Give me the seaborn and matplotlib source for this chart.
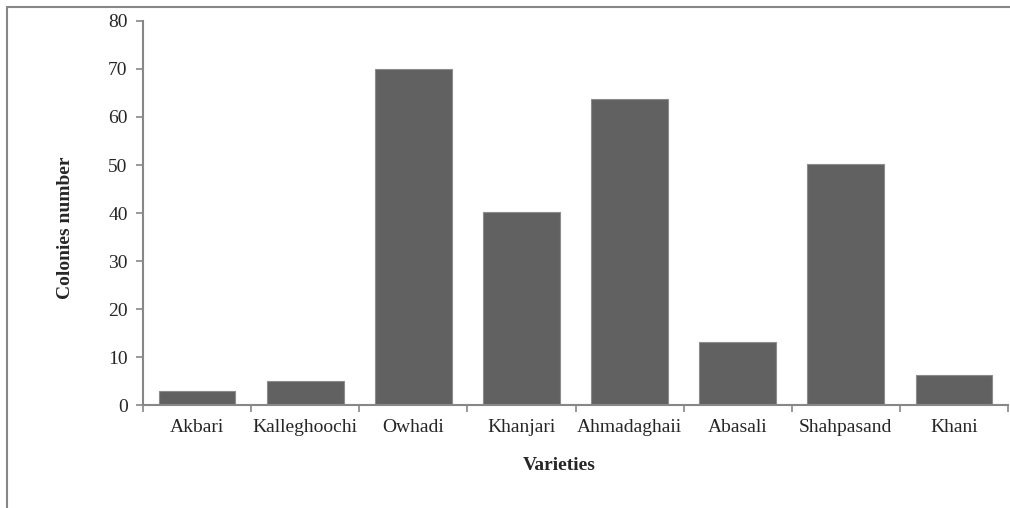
import numpy as np
import pandas as pd
import seaborn as sns
import matplotlib.pyplot as plt
from matplotlib.patches import Rectangle

sns.set_style('white')
plt.rcParams['font.family'] = ['Liberation Serif', 'DejaVu Serif']

# data
varieties = ['Akbari', 'Kalleghoochi', 'Owhadi', 'Khanjari', 'Ahmadaghaii',
             'Abasali', 'Shahpasand', 'Khani']
colonies = [2.9, 4.9, 70.0, 40.3, 63.7, 13.2, 50.3, 6.3]

df = pd.DataFrame({'Varieties': varieties, 'Colonies number': colonies})

fig = plt.figure(figsize=(10.10, 5.08), dpi=100)
W, H = 1010, 508
ax = fig.add_axes([143 / W, 1 - 405 / H, (1008 - 143) / W, (405 - 21) / H])

sns.barplot(data=df, x='Varieties', y='Colonies number', ax=ax,
            color='#616161', saturation=1, width=0.71,
            edgecolor='#8c8c8c', linewidth=0.8)

grey = '#878787'
ax.set_xlim(-0.5, len(varieties) - 0.5)
ax.set_ylim(0, 80)
ax.set_yticks(np.arange(0, 81, 10))

# category boundaries get the tick marks, labels sit in between
n = len(varieties)
ax.set_xticks(np.arange(-0.5, n, 1.0))
ax.set_xticklabels([''] * (n + 1))
ax.set_xticks(np.arange(n), minor=True)
ax.set_xticklabels(varieties, minor=True)
ax.tick_params(axis='x', which='major', direction='out', length=5, width=1.2,
               color=grey, bottom=True)
ax.tick_params(axis='x', which='minor', length=0, pad=10, labelsize=14)
ax.tick_params(axis='y', direction='out', length=5, width=1.2, color=grey,
               left=True, labelsize=14, pad=6)

for s in ['top', 'right']:
    ax.spines[s].set_visible(False)
for s in ['left', 'bottom']:
    ax.spines[s].set_color(grey)
    ax.spines[s].set_linewidth(1.5)

ax.set_xlabel('Varieties', fontsize=14, fontweight='bold')
ax.set_ylabel('Colonies number', fontsize=14, fontweight='bold')
ax.xaxis.set_label_coords((559 - 143) / 865, (405 - 465) / 384)
ax.xaxis.label.set_va('center')
ax.yaxis.set_label_coords((65 - 143) / 865, (405 - 228) / 384)
ax.yaxis.label.set_va('center')

# chart-area border (only left and top edges fall inside the image)
fig.patches.append(Rectangle((7 / W, -0.1), 1.2, 1 - 7 / H + 0.1,
                             transform=fig.transFigure, fill=False,
                             edgecolor=grey, linewidth=1.5))

fig.savefig('out.png', dpi=100)
